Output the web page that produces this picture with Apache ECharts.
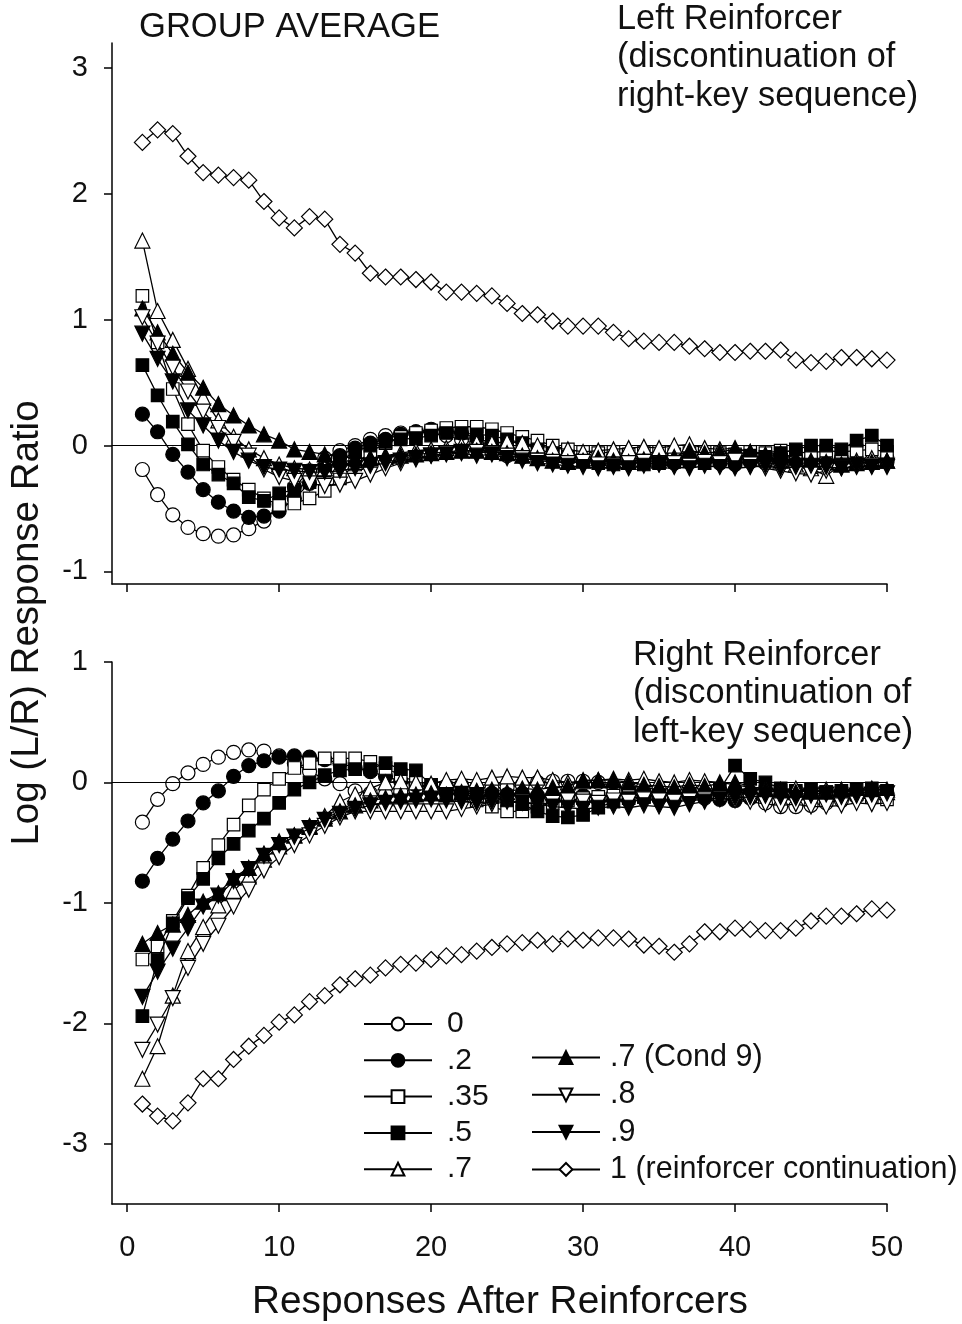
<!DOCTYPE html>
<html>
<head>
<meta charset="utf-8">
<script src="https://cdn.jsdelivr.net/npm/echarts@6/dist/echarts.min.js"></script>
<style>
html,body{margin:0;padding:0;background:#fff;}
#chart{width:962px;height:1324px;}
</style>
</head>
<body>
<div id="chart"></div>
<script>
// ---------------- DATA ----------------
const RESPONSES = [1,2,3,4,5,6,7,8,9,10,11,12,13,14,15,16,17,18,19,20,21,22,23,24,25,26,27,28,29,30,31,32,33,34,35,36,37,38,39,40,41,42,43,44,45,46,47,48,49,50];
const SERIES_NAMES = ['0', '.2', '.35', '.5', '.7', '.7 (Cond 9)', '.8', '.9', '1 (reinforcer continuation)'];
const X_TICKS = [0, 10, 20, 30, 40, 50];
const TOP_Y_TICKS = [-1, 0, 1, 2, 3];
const BOTTOM_Y_TICKS = [-3, -2, -1, 0, 1];

// Top panel: Left Reinforcer
const TOP_P0   = [-0.19,-0.39,-0.55,-0.65,-0.70,-0.72,-0.71,-0.66,-0.60,-0.47,-0.33,-0.20,-0.10,-0.04,0.00,0.05,0.08,0.10,0.11,0.10,0.08,0.05,0.01,-0.05,-0.08,-0.09,-0.10,-0.11,-0.10,-0.09,-0.10,-0.09,-0.08,-0.10,-0.08,-0.09,-0.10,-0.12,-0.11,-0.10,-0.09,-0.10,-0.08,-0.10,-0.11,-0.12,-0.10,-0.11,-0.12,-0.10];
const TOP_P02  = [0.25,0.11,-0.07,-0.21,-0.35,-0.45,-0.52,-0.57,-0.56,-0.52,-0.42,-0.30,-0.18,-0.08,-0.02,0.02,0.05,0.09,0.11,0.13,0.12,0.10,0.06,0.02,-0.02,-0.05,-0.08,-0.09,-0.10,-0.12,-0.13,-0.12,-0.14,-0.13,-0.12,-0.14,-0.13,-0.12,-0.14,-0.15,-0.13,-0.14,-0.12,-0.13,-0.15,-0.14,-0.12,-0.13,-0.14,-0.13];
const TOP_P035 = [1.19,0.82,0.45,0.17,-0.04,-0.17,-0.27,-0.35,-0.42,-0.47,-0.46,-0.42,-0.36,-0.26,-0.15,-0.05,0.02,0.07,0.10,0.12,0.14,0.15,0.15,0.13,0.10,0.07,0.04,0.00,-0.03,-0.05,-0.06,-0.05,-0.07,-0.06,-0.05,-0.07,-0.06,-0.05,-0.06,-0.07,-0.05,-0.06,-0.04,-0.05,-0.06,-0.04,-0.05,-0.04,-0.03,-0.05];
const TOP_P05  = [0.64,0.40,0.19,0.01,-0.15,-0.23,-0.30,-0.41,-0.44,-0.38,-0.35,-0.29,-0.20,-0.12,-0.05,0.00,0.03,0.05,0.06,0.08,0.10,0.10,0.09,0.08,0.05,0.02,-0.03,-0.06,-0.09,-0.12,-0.14,-0.15,-0.13,-0.15,-0.14,-0.13,-0.12,-0.14,-0.10,-0.11,-0.08,-0.09,-0.06,-0.03,0.00,0.00,-0.03,0.04,0.08,0.00];
const TOP_P07  = [1.63,1.07,0.84,0.61,0.38,0.20,0.07,-0.03,-0.10,-0.15,-0.18,-0.19,-0.18,-0.16,-0.13,-0.10,-0.08,-0.06,-0.04,-0.03,-0.02,0.00,0.02,0.02,0.03,0.02,0.00,-0.02,-0.03,-0.05,-0.04,-0.03,-0.02,-0.01,-0.02,0.00,0.01,-0.02,-0.03,-0.02,-0.05,-0.08,-0.12,-0.15,-0.18,-0.24,-0.15,-0.12,-0.10,-0.12];
const TOP_P07C = [1.09,0.90,0.73,0.58,0.46,0.33,0.24,0.16,0.09,0.04,-0.03,-0.05,-0.07,-0.09,-0.10,-0.10,-0.09,-0.08,-0.07,-0.06,-0.05,-0.04,-0.04,-0.05,-0.06,-0.08,-0.10,-0.12,-0.13,-0.12,-0.10,-0.12,-0.13,-0.11,-0.12,-0.09,-0.04,-0.06,-0.05,-0.03,-0.05,-0.07,-0.06,-0.10,-0.12,-0.13,-0.15,-0.14,-0.13,-0.12];
const TOP_P08  = [1.02,0.81,0.62,0.43,0.27,0.14,0.03,-0.08,-0.19,-0.25,-0.28,-0.30,-0.32,-0.31,-0.28,-0.23,-0.18,-0.14,-0.11,-0.08,-0.06,-0.05,-0.05,-0.06,-0.08,-0.10,-0.12,-0.13,-0.14,-0.13,-0.15,-0.16,-0.14,-0.13,-0.15,-0.14,-0.16,-0.13,-0.14,-0.12,-0.15,-0.18,-0.20,-0.22,-0.23,-0.20,-0.18,-0.17,-0.16,-0.17];
const TOP_P09  = [0.89,0.69,0.51,0.28,0.16,0.04,-0.05,-0.12,-0.17,-0.19,-0.20,-0.21,-0.21,-0.20,-0.18,-0.16,-0.14,-0.12,-0.10,-0.08,-0.07,-0.06,-0.08,-0.07,-0.10,-0.12,-0.14,-0.15,-0.16,-0.17,-0.18,-0.17,-0.18,-0.16,-0.15,-0.17,-0.18,-0.16,-0.17,-0.18,-0.17,-0.16,-0.18,-0.17,-0.16,-0.17,-0.18,-0.16,-0.17,-0.16];
const TOP_P1   = [2.41,2.51,2.48,2.30,2.17,2.15,2.13,2.11,1.94,1.81,1.73,1.82,1.80,1.60,1.53,1.37,1.34,1.34,1.32,1.30,1.22,1.22,1.21,1.19,1.13,1.05,1.04,0.99,0.95,0.95,0.95,0.90,0.85,0.83,0.82,0.82,0.79,0.77,0.74,0.74,0.75,0.75,0.76,0.68,0.66,0.67,0.70,0.70,0.69,0.68];

// Bottom panel: Right Reinforcer
const BOT_P0   = [-0.33,-0.14,-0.01,0.08,0.15,0.21,0.25,0.27,0.26,0.22,0.16,0.09,0.03,-0.01,-0.07,-0.09,-0.10,-0.08,-0.06,-0.04,-0.03,-0.02,-0.04,-0.05,-0.04,-0.02,0.00,0.01,0.01,0.01,0.00,-0.03,-0.06,-0.07,-0.08,-0.09,-0.08,-0.10,-0.11,-0.12,-0.12,-0.17,-0.20,-0.20,-0.19,-0.17,-0.15,-0.12,-0.11,-0.10];
const BOT_P02  = [-0.82,-0.63,-0.47,-0.32,-0.17,-0.07,0.05,0.14,0.18,0.21,0.22,0.21,0.19,0.16,0.12,0.09,0.05,0.01,-0.02,-0.05,-0.06,-0.08,-0.07,-0.09,-0.10,-0.09,-0.11,-0.12,-0.10,-0.11,-0.12,-0.10,-0.09,-0.11,-0.10,-0.12,-0.11,-0.13,-0.14,-0.15,-0.13,-0.12,-0.11,-0.10,-0.12,-0.11,-0.10,-0.09,-0.08,-0.09];
const BOT_P035 = [-1.47,-1.36,-1.15,-0.94,-0.71,-0.52,-0.35,-0.19,-0.06,0.03,0.12,0.16,0.20,0.20,0.20,0.17,0.12,0.06,0.00,-0.05,-0.08,-0.11,-0.15,-0.20,-0.24,-0.24,-0.20,-0.17,-0.15,-0.13,-0.12,-0.11,-0.10,-0.12,-0.11,-0.10,-0.09,-0.08,-0.10,-0.09,-0.10,-0.08,-0.07,-0.09,-0.10,-0.08,-0.09,-0.10,-0.12,-0.14];
const BOT_P05  = [-1.94,-1.47,-1.17,-0.96,-0.80,-0.63,-0.51,-0.40,-0.30,-0.17,-0.06,0.00,0.06,0.10,0.11,0.11,0.16,0.11,0.10,-0.02,-0.05,-0.08,-0.10,-0.12,-0.15,-0.18,-0.24,-0.28,-0.29,-0.27,-0.21,-0.16,-0.13,-0.12,-0.10,-0.11,-0.09,-0.08,-0.06,0.14,0.03,0.00,-0.05,-0.07,-0.06,-0.08,-0.07,-0.06,-0.05,-0.07];
const BOT_P07  = [-2.46,-2.19,-1.77,-1.40,-1.20,-1.02,-0.90,-0.78,-0.64,-0.53,-0.44,-0.36,-0.28,-0.16,-0.10,-0.05,0.00,0.01,0.00,-0.01,0.02,0.03,0.02,0.04,0.05,0.04,0.04,0.02,0.00,0.01,0.02,0.03,0.02,0.03,0.01,0.00,0.02,0.01,0.00,-0.02,-0.04,-0.05,-0.06,-0.05,-0.07,-0.06,-0.08,-0.07,-0.06,-0.08];
const BOT_P07C = [-1.34,-1.25,-1.18,-1.10,-0.99,-0.92,-0.79,-0.71,-0.59,-0.49,-0.44,-0.37,-0.30,-0.24,-0.19,-0.15,-0.13,-0.11,-0.10,-0.09,-0.10,-0.08,-0.07,-0.06,-0.08,-0.05,-0.06,-0.04,-0.03,0.02,0.02,0.02,0.00,-0.02,-0.03,-0.04,-0.02,-0.03,-0.01,0.00,-0.03,-0.06,-0.07,-0.08,-0.07,-0.08,-0.06,-0.07,-0.05,-0.06];
const BOT_P08  = [-2.22,-2.01,-1.79,-1.54,-1.34,-1.19,-1.03,-0.89,-0.73,-0.62,-0.52,-0.44,-0.36,-0.29,-0.24,-0.24,-0.24,-0.24,-0.24,-0.24,-0.24,-0.22,-0.20,-0.18,-0.16,-0.16,-0.18,-0.17,-0.15,-0.16,-0.17,-0.15,-0.16,-0.14,-0.15,-0.16,-0.15,-0.14,-0.13,-0.15,-0.16,-0.18,-0.19,-0.18,-0.20,-0.20,-0.19,-0.17,-0.18,-0.17];
const BOT_P09  = [-1.78,-1.57,-1.38,-1.21,-1.03,-0.94,-0.82,-0.72,-0.61,-0.52,-0.45,-0.38,-0.31,-0.26,-0.22,-0.19,-0.17,-0.16,-0.15,-0.14,-0.15,-0.16,-0.17,-0.16,-0.15,-0.17,-0.18,-0.20,-0.21,-0.22,-0.21,-0.20,-0.21,-0.19,-0.20,-0.21,-0.18,-0.16,-0.14,-0.13,-0.12,-0.11,-0.12,-0.13,-0.11,-0.10,-0.12,-0.11,-0.10,-0.09];
const BOT_P1   = [-2.67,-2.77,-2.81,-2.66,-2.46,-2.46,-2.30,-2.19,-2.10,-1.99,-1.93,-1.82,-1.77,-1.68,-1.63,-1.60,-1.54,-1.51,-1.50,-1.47,-1.44,-1.43,-1.40,-1.37,-1.34,-1.33,-1.31,-1.34,-1.30,-1.31,-1.29,-1.29,-1.30,-1.35,-1.36,-1.41,-1.34,-1.24,-1.24,-1.21,-1.22,-1.23,-1.23,-1.21,-1.15,-1.11,-1.11,-1.09,-1.05,-1.06];

const TOP_VALUES = [TOP_P0, TOP_P02, TOP_P035, TOP_P05, TOP_P07, TOP_P07C, TOP_P08, TOP_P09, TOP_P1];
const BOT_VALUES = [BOT_P0, BOT_P02, BOT_P035, BOT_P05, BOT_P07, BOT_P07C, BOT_P08, BOT_P09, BOT_P1];

// ---------------- STYLE ----------------
const FONT = '"Liberation Sans", Arial, Helvetica, sans-serif';
const MARKERS = [
  {symbol:'circle',   size:14, fill:'#fff', rot:0},
  {symbol:'circle',   size:14, fill:'#000', rot:0},
  {symbol:'rect',     size:12.5, fill:'#fff', rot:0},
  {symbol:'rect',     size:12.5, fill:'#000', rot:0},
  {symbol:'triangle', size:15, fill:'#fff', rot:0},
  {symbol:'triangle', size:15, fill:'#000', rot:0},
  {symbol:'triangle', size:15, fill:'#fff', rot:180},
  {symbol:'triangle', size:15, fill:'#000', rot:180},
  {symbol:'diamond',  size:16, fill:'#fff', rot:0}
];

const GRID_LEFT = 112, GRID_W = 775;

function makeSeries(values, idx, axisIdx) {
  const m = MARKERS[idx];
  return {
    type: 'line',
    name: SERIES_NAMES[idx],
    xAxisIndex: axisIdx,
    yAxisIndex: axisIdx,
    data: RESPONSES.map((x, i) => [x, values[i]]),
    symbol: m.symbol,
    symbolSize: m.size,
    symbolRotate: m.rot,
    showSymbol: true,
    showAllSymbol: true,
    color: '#000',
    lineStyle: {color: '#000', width: 1.3},
    itemStyle: {color: m.fill, borderColor: '#000', borderWidth: 1.2},
    emphasis: {disabled: true},
    silent: true,
    z: 3 + idx
  };
}

const series = [];
TOP_VALUES.forEach((v, i) => series.push(makeSeries(v, i, 0)));
BOT_VALUES.forEach((v, i) => series.push(makeSeries(v, i, 1)));
// zero reference lines
[0, 1].forEach(a => {
  series.push({
    type: 'line', xAxisIndex: a, yAxisIndex: a, data: [], silent: true, z: 2,
    markLine: {
      silent: true, symbol: ['none', 'none'], label: {show: false},
      lineStyle: {color: '#000', width: 1.2, type: 'solid'},
      data: [{yAxis: 0}]
    }
  });
});

function xAxis(gridIndex, showLabels) {
  return {
    type: 'value', gridIndex, min: -1, max: 50,
    axisLine: {show: true, onZero: false, lineStyle: {color: '#000', width: 1.5}},
    axisTick: {show: true, length: 8, customValues: X_TICKS, lineStyle: {color: '#000', width: 1.5}},
    axisLabel: {show: showLabels, customValues: X_TICKS, fontSize: 29, color: '#111', fontFamily: FONT, margin: 29},
    splitLine: {show: false}
  };
}
function yAxis(gridIndex, min, max, ticks) {
  return {
    type: 'value', gridIndex, min, max,
    axisLine: {show: true, onZero: false, lineStyle: {color: '#000', width: 1.5}},
    axisTick: {show: true, length: 8, customValues: ticks, lineStyle: {color: '#000', width: 1.5}},
    axisLabel: {show: true, customValues: ticks, fontSize: 29, color: '#111', fontFamily: FONT, margin: 24},
    splitLine: {show: false}
  };
}

const legendCommon = {
  orient: 'vertical',
  padding: 0,
  itemWidth: 68,
  itemHeight: 16,
  selectedMode: false
};

const option = {
  animation: false,
  backgroundColor: '#fff',
  grid: [
    {left: GRID_LEFT, top: 43, width: GRID_W, height: 541},
    {left: GRID_LEFT, top: 662, width: GRID_W, height: 542}
  ],
  xAxis: [xAxis(0, false), xAxis(1, true)],
  yAxis: [yAxis(0, -1.1, 3.2, TOP_Y_TICKS), yAxis(1, -3.5, 1, BOTTOM_Y_TICKS)],
  legend: [
    Object.assign({}, legendCommon, {
      left: 363, top: 1009, itemGap: 6.3,
      data: SERIES_NAMES.slice(0, 5),
      textStyle: {fontSize: 30, color: '#111', fontFamily: FONT, padding: [0, 0, 0, 10]}
    }),
    Object.assign({}, legendCommon, {
      left: 531, top: 1042, itemGap: 6.3,
      data: SERIES_NAMES.slice(5),
      textStyle: {fontSize: 30.5, color: '#111', fontFamily: FONT, padding: [0, 0, 0, 5]}
    })
  ],
  graphic: [
    {type: 'text', left: 139, top: 10, style: {text: 'GROUP AVERAGE', font: '34.6px ' + FONT, fill: '#111'}},
    {type: 'text', left: 617, top: 0, style: {text: 'Left Reinforcer\n(discontinuation of\nright-key sequence)', font: '34.3px ' + FONT, fill: '#111', lineHeight: 38.5}},
    {type: 'text', left: 633, top: 636, style: {text: 'Right Reinforcer\n(discontinuation of\nleft-key sequence)', font: '34.3px ' + FONT, fill: '#111', lineHeight: 38.5}},
    {type: 'text', x: 27, y: 623, rotation: Math.PI / 2,
      style: {text: 'Log (L/R) Response Ratio', font: '38.5px ' + FONT, fill: '#111', align: 'center', verticalAlign: 'middle'}},
    {type: 'text', x: 500, y: 1302,
      style: {text: 'Responses After Reinforcers', font: '38.8px ' + FONT, fill: '#111', align: 'center', verticalAlign: 'middle'}}
  ],
  series
};

const chart = echarts.init(document.getElementById('chart'), null, {renderer: 'canvas'});
chart.setOption(option);
</script>
</body>
</html>
